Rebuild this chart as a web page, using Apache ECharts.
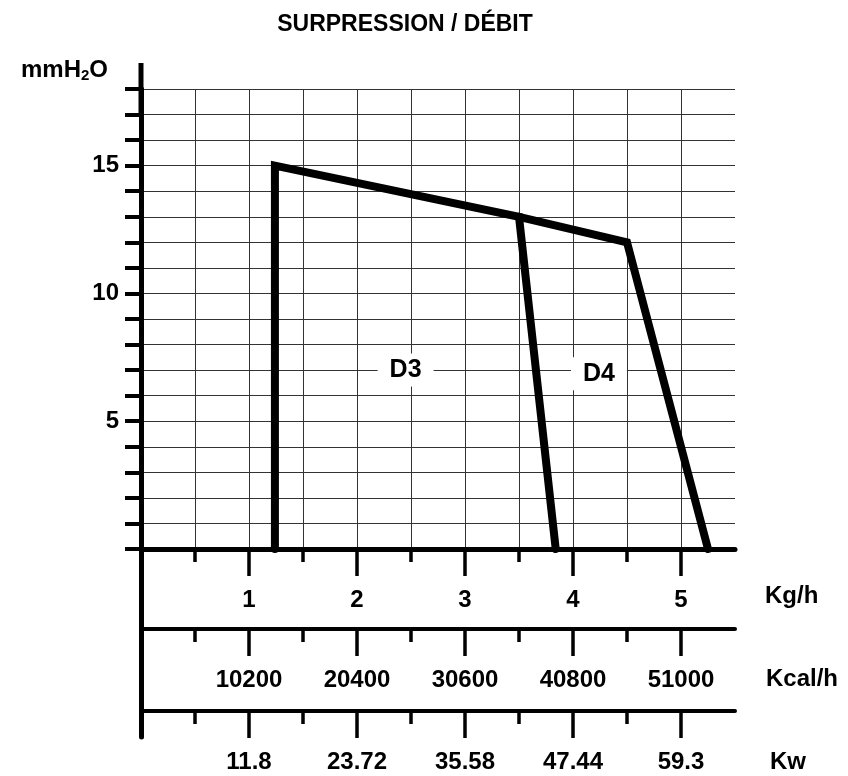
<!DOCTYPE html>
<html>
<head>
<meta charset="utf-8">
<script src="https://cdn.jsdelivr.net/npm/echarts@6/dist/echarts.min.js"></script>
<style>
html,body{margin:0;padding:0;background:#fff;}
#chart{width:848px;height:776px;}
</style>
</head>
<body>
<div id="chart"></div>
<script>
// ---- data ----
const titleText = 'SURPRESSION / DÉBIT';
const kgLabels = ['1', '2', '3', '4', '5'];
const kcalLabels = ['10200', '20400', '30600', '40800', '51000'];
const kwLabels = ['11.8', '23.72', '35.58', '47.44', '59.3'];
const majorTicks = [1, 2, 3, 4, 5];
const minorTicks = [0.5, 1.5, 2.5, 3.5, 4.5];
const d3Points = [[1.24, 0], [1.24, 15], [3.5, 13], [3.84, 0]];
const d4Points = [[3.5, 13], [4.5, 12], [5.25, 0]];
const curveLabels = [[2.45, 7.0, 'D3'], [4.24, 6.86, 'D4']];

const FONT = '"Liberation Sans", Arial, sans-serif';
const X_MIN = 0, X_MAX = 5.5, Y_MIN = 0, Y_MAX = 18;
const GRID_STYLE = { color: '#333', width: 1 };

function labelFrom(arr) {
  return function (v) { const i = Math.round(v) - 1; return arr[i] !== undefined ? arr[i] : ''; };
}

function rowAxes(offset, labels, name, nameDy, nameGap, lineWidth) {
  const base = {
    type: 'value', gridIndex: 0, position: 'bottom', offset: offset,
    min: X_MIN, max: X_MAX, interval: 0.5
  };
  return [
    Object.assign({}, base, {
      splitLine: { show: offset === 0, lineStyle: GRID_STYLE },
      axisLine: { show: true, onZero: false, lineStyle: { color: '#000', width: lineWidth } },
      axisTick: { show: true, customValues: minorTicks, length: 13, lineStyle: { color: '#000', width: 3.5 } },
      axisLabel: { show: true, customValues: majorTicks, formatter: labelFrom(labels),
        color: '#000', fontFamily: FONT, fontWeight: 'bold', fontSize: 24,
        margin: 51, verticalAlign: 'middle' }
    }),
    Object.assign({}, base, {
      splitLine: { show: offset === 0, lineStyle: GRID_STYLE },
      axisLine: { show: false, onZero: false },
      axisTick: { show: true, customValues: majorTicks, length: 27, lineStyle: { color: '#000', width: 3.5 } },
      axisLabel: { show: false }
    }),
    Object.assign({}, base, {
      offset: offset + nameDy,
      name: name, nameLocation: 'end', nameGap: nameGap,
      nameTextStyle: { color: '#000', fontFamily: FONT, fontWeight: 'bold', fontSize: 24,
        align: 'left', verticalAlign: 'middle' },
      splitLine: { show: false },
      axisLine: { show: false, onZero: false },
      axisTick: { show: false },
      axisLabel: { show: false }
    })
  ];
}

const xAxes = [].concat(
  rowAxes(0, kgLabels, 'Kg/h', 47, 30, 5),
  rowAxes(80, kcalLabels, 'Kcal/h', 50, 31, 4),
  rowAxes(162, kwLabels, 'Kw', 51, 35, 4),
  [{ type: 'value', gridIndex: 1, min: 0, max: 1, show: false }]
);

const chart = echarts.init(document.getElementById('chart'), null, { renderer: 'canvas' });
chart.setOption({
  backgroundColor: '#fff',
  animation: false,
  title: {
    text: titleText, left: 400, top: 8, textAlign: 'center',
    textStyle: { color: '#000', fontFamily: FONT, fontWeight: 'bold', fontSize: 23 }
  },
  grid: [
    { left: 141, right: 113, top: 89, bottom: 227, containLabel: false },
    { left: 141, right: 113, top: 549, height: 188, containLabel: false }
  ],
  xAxis: xAxes,
  yAxis: [
    {
      type: 'value', gridIndex: 0, min: Y_MIN, max: Y_MAX, interval: 1,
      name: 'mmH{sub|2}O', nameLocation: 'end', nameGap: 6,
      nameTextStyle: {
        color: '#000', fontFamily: FONT, fontWeight: 'bold', fontSize: 24,
        align: 'right', verticalAlign: 'bottom', padding: [0, 33, 0, 0],
        rich: { sub: { color: '#000', fontFamily: FONT, fontWeight: 'bold', fontSize: 15, padding: [10, 0, 0, 0] } }
      },
      axisLine: { show: true, onZero: false, symbol: ['none', 'rect'], symbolSize: [5, 52],
        lineStyle: { color: '#000', width: 5 } },
      axisTick: { show: true, length: 16, lineStyle: { color: '#000', width: 4 } },
      axisLabel: {
        show: true, margin: 22, color: '#000', fontFamily: FONT, fontWeight: 'bold', fontSize: 24,
        formatter: function (v) { return (v > 0 && v % 5 === 0) ? String(v) : ''; }
      },
      splitLine: { show: true, lineStyle: GRID_STYLE }
    },
    {
      type: 'value', gridIndex: 1, min: 0, max: 1,
      axisLine: { show: true, onZero: false, lineStyle: { color: '#000', width: 5 } },
      axisTick: { show: false }, axisLabel: { show: false }, splitLine: { show: false }
    }
  ],
  series: [
    {
      name: 'D3', type: 'line', xAxisIndex: 0, yAxisIndex: 0, data: d3Points,
      symbol: 'none', lineStyle: { color: '#000', width: 8, cap: 'round', join: 'miter' }, z: 5
    },
    {
      name: 'D4', type: 'line', xAxisIndex: 0, yAxisIndex: 0, data: d4Points,
      symbol: 'none', lineStyle: { color: '#000', width: 8, cap: 'round', join: 'miter' }, z: 5
    },
    {
      name: 'labels', type: 'scatter', xAxisIndex: 0, yAxisIndex: 0, data: curveLabels,
      symbolSize: 0, z: 4, itemStyle: { opacity: 1 },
      label: {
        show: true, position: 'inside', formatter: function (p) { return p.value[2]; },
        color: '#000', fontFamily: FONT, fontWeight: 'bold', fontSize: 25, opacity: 1,
        backgroundColor: '#fff', padding: [4, 12]
      }
    }
  ]
});
</script>
</body>
</html>
